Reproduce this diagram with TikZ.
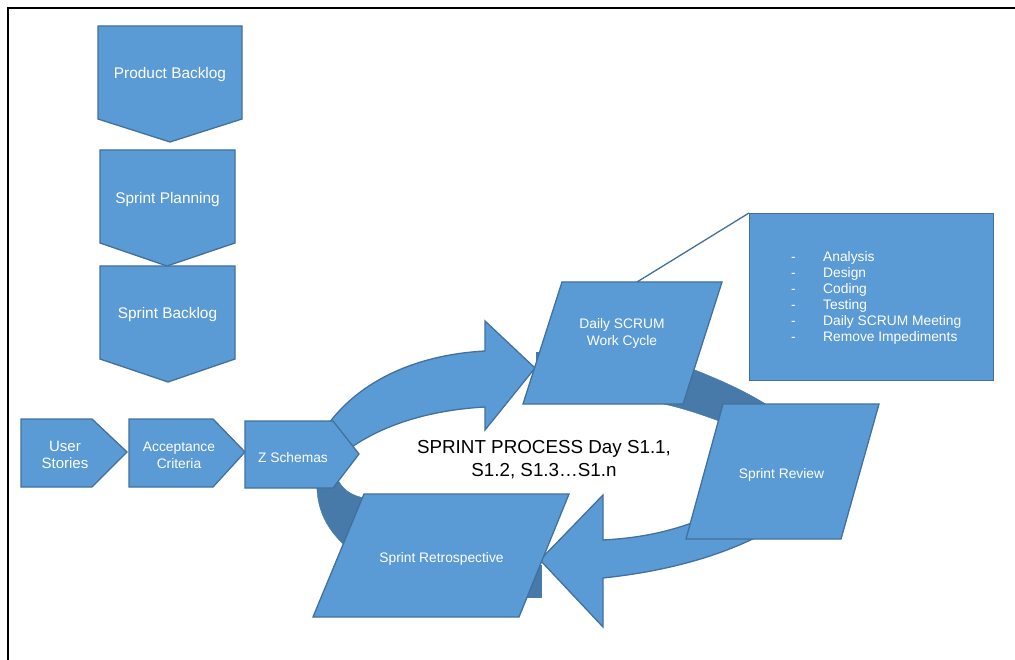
\documentclass[tikz,border=0pt]{standalone}
\usepackage{fontspec}
\setmainfont{Liberation Sans}
\definecolor{blockblue}{HTML}{5B9BD5}
\definecolor{edgeblue}{HTML}{41719C}
\definecolor{bandblue}{HTML}{4779A9}
\begin{document}
\begin{tikzpicture}[x=1pt,y=-1pt,
  shapefill/.style={fill=blockblue, draw=edgeblue, line width=1.3pt, line join=miter},
  bandfill/.style={fill=bandblue, draw=bandblue, line width=0.4pt},
  lbl/.style={text=white, align=center, inner sep=0pt, font=\fontsize{13.8}{16.5}\selectfont},
  toplbl/.style={text=white, align=center, inner sep=0pt, font=\fontsize{15.4}{17.5}\selectfont},
  proclbl/.style={text=black, inner sep=0pt, font=\fontsize{18.8}{22}\selectfont},
]
\useasboundingbox (0,0) rectangle (1015,660);
\fill[white] (0,0) rectangle (1015,660);

% page frame (left and top edges)
\draw[line width=2pt] (8.3,665) -- (8.3,7.8) -- (1020,7.8);

% ---- backlog chain (down-pointing pentagons)
\draw[shapefill] (98,26) -- (242,26) -- (242,119) -- (170,142) -- (98,119) -- cycle;
\node[toplbl] (pb) at (170,75) {Product Backlog};
\draw[shapefill] (100,150) -- (235,150) -- (235,243) -- (167,266) -- (100,243) -- cycle;
\node[toplbl] (sp) at (167.5,200) {Sprint Planning};
\draw[shapefill] (100,266) -- (235,266) -- (235,359) -- (168,382) -- (100,359) -- cycle;
\node[toplbl] (sb) at (167.5,315) {Sprint Backlog};

% ---- sprint cycle: shaded back bands
\fill[bandblue] (520,565) rectangle (542,598);
\fill[bandblue] (536,352) rectangle (548,366);
\path[bandfill] (650,401) -- (690,368) .. controls (715,378) and (745,390) .. (775,410)
  -- (760,440) -- (730,425) .. controls (705,416) and (685,408) .. (650,401) -- cycle;
\path[bandfill] (317,478) .. controls (315,510) and (328,532) .. (350,550)
  -- (378,520) -- (365,498) .. controls (352,496) and (342,490) .. (336,476) -- cycle;

% ---- sprint cycle: curved arrows
\draw[shapefill] (318,440) .. controls (348,386) and (410,355) .. (485,351)
  -- (485,321) -- (535,368) -- (485,430) -- (485,407)
  .. controls (430,410) and (380,425) .. (345,452) -- cycle;
\draw[shapefill] (603,495) -- (540,560) -- (603,627) -- (603,578)
  .. controls (660,572) and (720,558) .. (770,530) -- (760,505) -- (705,518)
  .. controls (670,532) and (640,538) .. (603,540) -- cycle;

% ---- requirements chain (right-pointing pentagons)
\draw[shapefill] (21,419) -- (92,419) -- (127,452) -- (92,487) -- (21,487) -- cycle;
\node[toplbl, font=\fontsize{15}{17}\selectfont] (us) at (65,455) {User\\Stories};
\draw[shapefill] (129,419) -- (213,419) -- (245,452) -- (213,487) -- (129,487) -- cycle;
\node[lbl] (ac) at (179,455.5) {Acceptance\\Criteria};
\draw[shapefill] (245,421) -- (333,421) -- (359,454) -- (333,488) -- (245,488) -- cycle;
\node[lbl] (zs) at (293,458) {Z Schemas};

% ---- sprint stages (parallelograms)
\draw[shapefill] (562,282) -- (722,282) -- (683,404) -- (523,404) -- cycle;
\coordinate (dstop) at (637,282);
\node[lbl] (ds) at (622,333.5) {Daily SCRUM\\Work Cycle};
\draw[shapefill] (723,404) -- (879,404) -- (841,539) -- (686,539) -- cycle;
\node[lbl] (sr) at (781.5,475) {Sprint Review};
\draw[shapefill] (364,494) -- (569,494) -- (519,617) -- (313,617) -- cycle;
\node[lbl] (srt) at (441.5,559) {Sprint Retrospective};

% ---- daily work items callout
\node[shapefill, anchor=north west, minimum width=244pt, minimum height=167pt, inner sep=0pt] (tasks) at (749,213) {};
\node[anchor=west, text=white, align=left, inner sep=0pt, font=\fontsize{13.8}{16}\selectfont] (tasklist) at (791,298)
  {\makebox[32pt][l]{-}Analysis\\
   \makebox[32pt][l]{-}Design\\
   \makebox[32pt][l]{-}Coding\\
   \makebox[32pt][l]{-}Testing\\
   \makebox[32pt][l]{-}Daily SCRUM Meeting\\
   \makebox[32pt][l]{-}Remove Impediments};
\draw[edgeblue, line width=1.3pt] (dstop) -- (tasks.north west);

% ---- cycle caption
\node[proclbl] (proc1) at (544,448.5) {SPRINT PROCESS Day S1.1,};
\node[proclbl] (proc2) at (544,471.5) {S1.2, S1.3…S1.n};
\end{tikzpicture}
\end{document}
